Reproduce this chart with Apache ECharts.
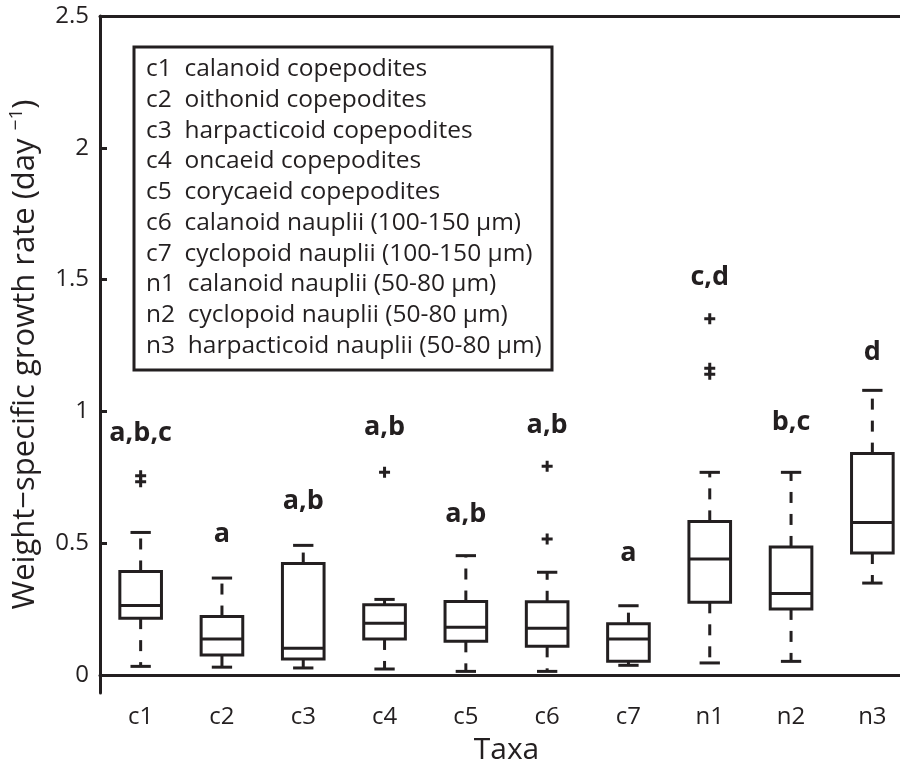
<!DOCTYPE html>
<html>
<head>
<meta charset="utf-8">
<script src="https://cdn.jsdelivr.net/npm/echarts@6/dist/echarts.min.js"></script>
<style>
  html, body { margin: 0; padding: 0; background: #fff; }
  #chart { width: 900px; height: 769px; }
</style>
</head>
<body>
<div id="chart"></div>
<script>
// taxa on the x axis
const categories = ['c1', 'c2', 'c3', 'c4', 'c5', 'c6', 'c7', 'n1', 'n2', 'n3']
// box statistics (day^-1)
const lowerWhisker = [0.033, 0.030, 0.027, 0.023, 0.014, 0.014, 0.037, 0.046, 0.052, 0.349]
const q1 = [0.216, 0.076, 0.061, 0.137, 0.128, 0.109, 0.052, 0.276, 0.251, 0.463]
const median = [0.264, 0.137, 0.102, 0.197, 0.181, 0.178, 0.137, 0.440, 0.309, 0.579]
const q3 = [0.393, 0.222, 0.423, 0.267, 0.279, 0.278, 0.195, 0.583, 0.486, 0.840]
const upperWhisker = [0.541, 0.368, 0.492, 0.287, 0.453, 0.390, 0.263, 0.769, 0.769, 1.080]
// outliers: [category index, value]
const outliers = [
  [0, 0.733], [0, 0.756],
  [3, 0.769],
  [5, 0.516], [5, 0.792],
  [7, 1.141], [7, 1.164], [7, 1.352]
]
// significance letters and their baseline height
const groupLetters = ['a,b,c', 'a', 'a,b', 'a,b', 'a,b', 'a,b', 'a', 'c,d', 'b,c', 'd']
const letterY = [0.878, 0.495, 0.621, 0.903, 0.573, 0.908, 0.423, 1.47, 0.919, 1.187]
// y tick labels
const yTicks = [0, 0.5, 1, 1.5, 2, 2.5]
// key box text
const legendNames = [
  'calanoid copepodites',
  'oithonid copepodites',
  'harpacticoid copepodites',
  'oncaeid copepodites',
  'corycaeid copepodites',
  'calanoid nauplii (100-150 µm)',
  'cyclopoid nauplii (100-150 µm)',
  'calanoid nauplii (50-80 µm)',
  'cyclopoid nauplii (50-80 µm)',
  'harpacticoid nauplii (50-80 µm)'
]

const INK = '#231f20'
const FONT = '"Open Sans", "Noto Sans", sans-serif'

const chart = echarts.init(document.getElementById('chart'))

function renderBox(params, api) {
  const i = api.value(0)
  const lo = api.coord([i, api.value(1)])
  const b = api.coord([i, api.value(2)])
  const m = api.coord([i, api.value(3)])
  const t = api.coord([i, api.value(4)])
  const hi = api.coord([i, api.value(5)])
  const bw = api.size([1, 0])[0]
  const half = bw * 0.256
  const cap = bw * 0.125
  const x = m[0]
  const solid = { stroke: INK, lineWidth: 3, fill: null }
  const dashed = { stroke: INK, lineWidth: 3, lineDash: [11, 11] }
  return {
    type: 'group',
    children: [
      { type: 'line', shape: { x1: x, y1: t[1], x2: x, y2: hi[1] }, style: dashed },
      { type: 'line', shape: { x1: x, y1: b[1], x2: x, y2: lo[1] }, style: dashed },
      { type: 'line', shape: { x1: x - cap, y1: hi[1], x2: x + cap, y2: hi[1] }, style: solid },
      { type: 'line', shape: { x1: x - cap, y1: lo[1], x2: x + cap, y2: lo[1] }, style: solid },
      { type: 'rect', shape: { x: x - half, y: t[1], width: half * 2, height: b[1] - t[1] }, style: solid },
      { type: 'line', shape: { x1: x - half, y1: m[1], x2: x + half, y2: m[1] }, style: solid }
    ]
  }
}

const plusPath = 'path://M4,0H7V4H11V7H7V11H4V7H0V4H4Z'

const option = {
  backgroundColor: '#fff',
  animation: false,
  textStyle: { fontFamily: FONT, color: INK },
  grid: { left: 100, top: 16, width: 813, height: 677, outerBoundsMode: 'none', containLabel: false },
  xAxis: [
    {
      type: 'category',
      data: categories,
      boundaryGap: true,
      name: 'Taxa',
      nameLocation: 'middle',
      nameGap: 42,
      nameTextStyle: { fontFamily: FONT, fontSize: 30, color: INK },
      axisLine: { lineStyle: { color: INK, width: 3 } },
      axisTick: { inside: true, alignWithLabel: true, length: 7, lineStyle: { color: INK, width: 3 } },
      axisLabel: { margin: 12, fontFamily: FONT, fontSize: 24, color: INK },
      splitLine: { show: false }
    },
    {
      type: 'category',
      data: categories,
      position: 'top',
      boundaryGap: true,
      axisLine: { lineStyle: { color: INK, width: 3 } },
      axisTick: { inside: true, alignWithLabel: true, length: 7, lineStyle: { color: INK, width: 3 } },
      axisLabel: { show: false },
      splitLine: { show: false }
    }
  ],
  yAxis: {
    type: 'value',
    min: -0.068,
    max: 2.5,
    name: '{a|Weight−specific growth rate (day }{s|−1}{a|)}',
    nameLocation: 'middle',
    nameRotate: 90,
    nameGap: 57,
    nameTextStyle: {
      rich: {
        a: { fontFamily: FONT, fontSize: 31, color: INK, lineHeight: 36 },
        s: { fontFamily: FONT, fontSize: 19, color: INK, verticalAlign: 'top', lineHeight: 36 }
      }
    },
    axisLine: { show: true, lineStyle: { color: INK, width: 3 } },
    axisTick: { show: true, inside: true, length: 7, customValues: yTicks, lineStyle: { color: INK, width: 3 } },
    axisLabel: { margin: 11, fontFamily: FONT, fontSize: 24, color: INK, customValues: yTicks },
    splitLine: { show: false }
  },
  graphic: [
    {
      type: 'rect',
      shape: { x: 134, y: 47, width: 418, height: 323 },
      style: { fill: '#fff', stroke: INK, lineWidth: 3 },
      z: 10
    },
    {
      type: 'text',
      x: 146,
      y: 54,
      z: 11,
      style: {
        text: categories.map((c, i) => c + '  ' + legendNames[i]).join('\n'),
        font: '24.5px ' + FONT,
        lineHeight: 30.7,
        fill: INK
      }
    }
  ],
  series: [
    {
      type: 'custom',
      renderItem: renderBox,
      encode: { x: 0, y: [1, 2, 3, 4, 5] },
      data: categories.map((c, i) => [i, lowerWhisker[i], q1[i], median[i], q3[i], upperWhisker[i]]),
      z: 3
    },
    {
      type: 'scatter',
      symbol: plusPath,
      symbolSize: 11,
      itemStyle: { color: INK, opacity: 1 },
      data: outliers,
      z: 4
    },
    {
      type: 'scatter',
      symbolSize: 0,
      itemStyle: { opacity: 1 },
      data: categories.map((c, i) => [i, letterY[i]]),
      label: {
        show: true,
        position: 'inside',
        offset: [0, -10],
        formatter: p => groupLetters[p.dataIndex],
        fontFamily: FONT,
        fontWeight: 'bold',
        fontSize: 27,
        color: INK
      },
      z: 5
    }
  ]
}

chart.setOption(option)
</script>
</body>
</html>
